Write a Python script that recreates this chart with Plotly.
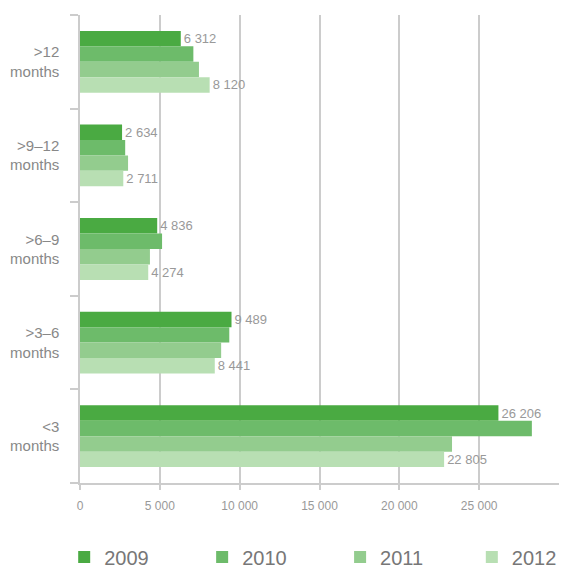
import plotly.graph_objects as go

categories = [">12 months", ">9–12 months", ">6–9 months", ">3–6 months", "<3 months"]
tick_labels = ["&gt;12<br>months", "&gt;9–12<br>months", "&gt;6–9<br>months", "&gt;3–6<br>months", "&lt;3<br>months"]
years = ["2009", "2010", "2011", "2012"]
v2009 = [6312, 2634, 4836, 9489, 26206]
v2010 = [7100, 2830, 5140, 9350, 28300]
v2011 = [7450, 3010, 4380, 8840, 23300]
v2012 = [8120, 2711, 4274, 8441, 22805]
show_labels = [True, False, False, True]
x_ticks = [0, 5000, 10000, 15000, 20000, 25000]

colors = ["#4aaa42", "#6dbb6a", "#93cc8e", "#b8dfb3"]
series = [v2009, v2010, v2011, v2012]
legend_x = [-0.033, 0.255, 0.543, 0.818]
legend_ids = ["legend", "legend2", "legend3", "legend4"]

fig = go.Figure()
for name, vals, col, lab, lid in zip(years, series, colors, show_labels, legend_ids):
    fig.add_trace(go.Bar(
        y=categories, x=vals, name=name, orientation="h",
        marker=dict(color=col, line=dict(width=0)),
        text=[f"{v:,}".replace(",", " ") for v in vals] if lab else None,
        textposition="outside" if lab else "none",
        textfont=dict(size=13, color="#999999"),
        cliponaxis=False, legend=lid,
    ))

legend_common = dict(orientation="h", xanchor="left", y=-0.158, yanchor="middle",
                     font=dict(size=20, color="#777777"), bgcolor="rgba(0,0,0,0)")

fig.update_layout(
    width=561, height=568,
    barmode="group", bargap=0.34, bargroupgap=0,
    plot_bgcolor="white", paper_bgcolor="white",
    margin=dict(l=80, r=2, t=15, b=85, autoexpand=False),
    font=dict(family="Liberation Sans, Arial, sans-serif", color="#888888"),
    separators=". ",
    showlegend=True,
    legend=dict(x=legend_x[0], **legend_common),
    legend2=dict(x=legend_x[1], **legend_common),
    legend3=dict(x=legend_x[2], **legend_common),
    legend4=dict(x=legend_x[3], **legend_common),
    xaxis=dict(range=[0, 30000], tickvals=x_ticks, showgrid=True, gridcolor="#cccccc", gridwidth=1.5,
               showline=True, linecolor="#cccccc", linewidth=1.5, ticks="outside", ticklen=5,
               tickcolor="#cccccc", tickwidth=1.5, tickfont=dict(size=12, color="#999999"),
               tickformat=",d", zeroline=False, ticklabelstandoff=6, automargin=False),
    yaxis=dict(categoryorder="array", categoryarray=categories, autorange="reversed",
               tickvals=categories, ticktext=tick_labels, tickson="boundaries",
               ticks="outside", ticklen=8, tickcolor="#cccccc", tickwidth=1.5,
               showline=True, linecolor="#cccccc", linewidth=1.5, showgrid=False,
               tickfont=dict(size=15, color="#888888"), ticklabelstandoff=16, automargin=False),
)

fig.write_html("out.html", config={"displayModeBar": False},
               post_script="document.body.style.margin='0px';")
